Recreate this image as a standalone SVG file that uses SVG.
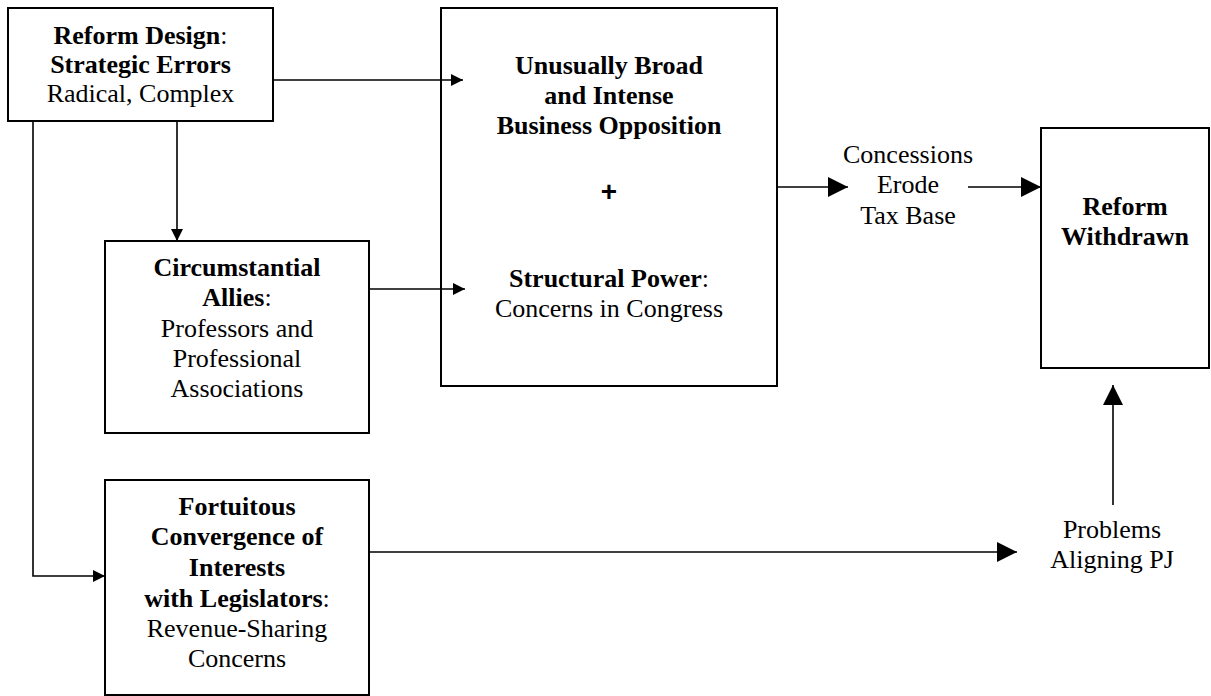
<svg xmlns="http://www.w3.org/2000/svg" width="1211" height="696" viewBox="0 0 1211 696">
<style>
  .box { fill: #fff; stroke: #000; stroke-width: 2; }
  .ln { fill: none; stroke: #000; stroke-width: 1.6; }
  text { font-family: "Liberation Serif", "Times New Roman", serif; font-size: 26px; fill: #000; text-anchor: middle; }
  .b { font-weight: bold; }
</style>
<defs>
  <marker id="big" markerUnits="userSpaceOnUse" markerWidth="20" markerHeight="20" refX="20" refY="10" orient="auto">
    <path d="M0,0 L20,10 L0,20 Z" fill="#000"/>
  </marker>
  <marker id="small" markerUnits="userSpaceOnUse" markerWidth="12" markerHeight="12" refX="12" refY="6" orient="auto">
    <path d="M0,0 L12,6 L0,12 Z" fill="#000"/>
  </marker>
</defs>
<rect width="1211" height="696" fill="#fff"/>

<g id="reform-design">
  <rect class="box" x="8" y="8" width="265" height="113"/>
  <text x="140.5" y="44"><tspan class="b">Reform Design</tspan>:</text>
  <text x="140.5" y="73" class="b">Strategic Errors</text>
  <text x="140.5" y="102">Radical, Complex</text>
</g>

<g id="business-opposition">
  <rect class="box" x="441" y="8" width="336" height="378"/>
  <text x="609" y="74" class="b">Unusually Broad</text>
  <text x="609" y="104" class="b">and Intense</text>
  <text x="609" y="134" class="b">Business Opposition</text>
  <text x="609" y="201" class="b" style="font-family:'Liberation Sans',Arial,sans-serif;font-size:28px">+</text>
  <text x="609" y="287"><tspan class="b">Structural Power</tspan>:</text>
  <text x="609" y="317">Concerns in Congress</text>
</g>

<g id="circumstantial-allies">
  <rect class="box" x="105" y="241" width="264" height="192"/>
  <text x="237" y="276" class="b">Circumstantial</text>
  <text x="237" y="306"><tspan class="b">Allies</tspan>:</text>
  <text x="237" y="337">Professors and</text>
  <text x="237" y="367">Professional</text>
  <text x="237" y="397">Associations</text>
</g>

<g id="fortuitous-convergence">
  <rect class="box" x="105" y="480" width="264" height="215"/>
  <text x="237" y="515" class="b">Fortuitous</text>
  <text x="237" y="545" class="b">Convergence of</text>
  <text x="237" y="576" class="b">Interests</text>
  <text x="237" y="607"><tspan class="b">with Legislators</tspan>:</text>
  <text x="237" y="637">Revenue-Sharing</text>
  <text x="237" y="667">Concerns</text>
</g>

<g id="concessions">
  <text x="908" y="163">Concessions</text>
  <text x="908" y="193">Erode</text>
  <text x="908" y="224">Tax Base</text>
</g>

<g id="reform-withdrawn">
  <rect class="box" x="1041" y="128" width="168" height="240"/>
  <text x="1125" y="215" class="b">Reform</text>
  <text x="1125" y="245" class="b">Withdrawn</text>
</g>

<g id="problems-aligning">
  <text x="1112" y="538">Problems</text>
  <text x="1112" y="568">Aligning PJ</text>
</g>

<g id="connectors">
  <path class="ln" d="M273,80 H463" marker-end="url(#small)"/>
  <path class="ln" d="M177,121 V241" marker-end="url(#small)"/>
  <path class="ln" d="M33,121 V576 H105" marker-end="url(#small)"/>
  <path class="ln" d="M369,289 H465" marker-end="url(#small)"/>
  <path class="ln" d="M777,187 H848" marker-end="url(#big)"/>
  <path class="ln" d="M968,187 H1041" marker-end="url(#big)"/>
  <path class="ln" d="M369,552 H1017" marker-end="url(#big)"/>
  <path class="ln" d="M1113,505 V385" marker-end="url(#big)"/>
</g>
</svg>
